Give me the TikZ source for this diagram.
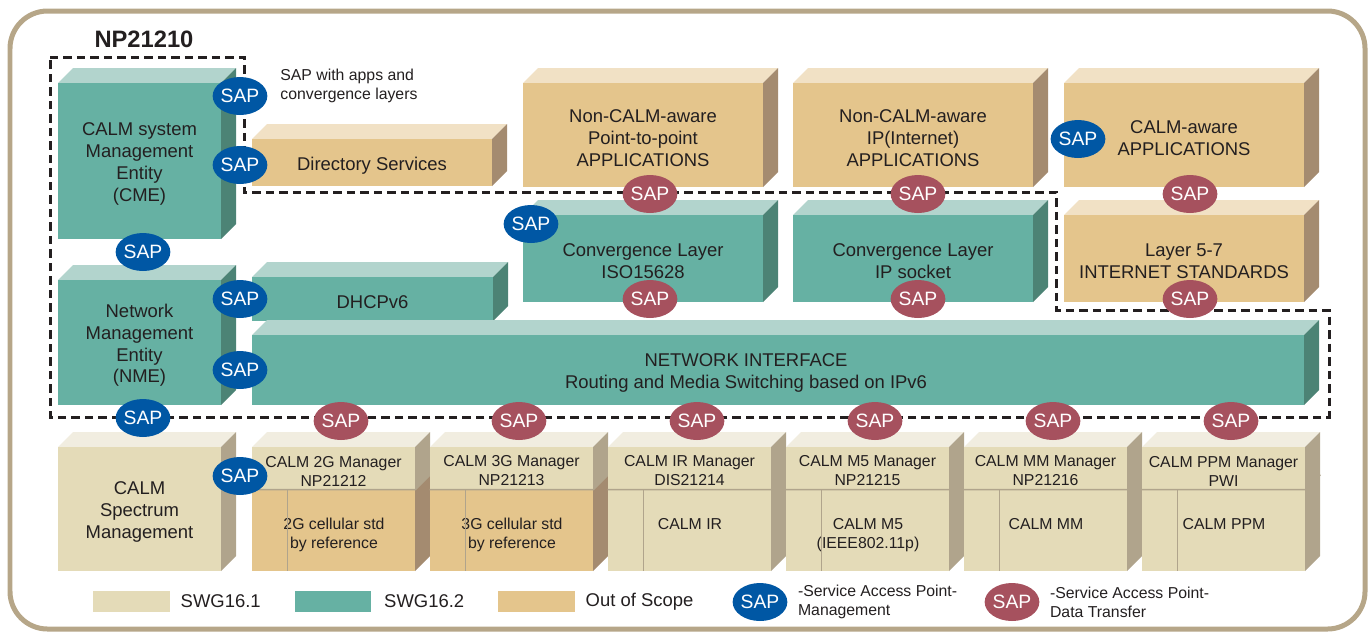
\documentclass[tikz,border=0pt]{standalone}
\usepackage{fontspec}
\setmainfont{Liberation Sans}
\usepackage{xcolor}
\usetikzlibrary{shapes,fit,positioning}

\definecolor{ink}{RGB}{35,31,32}
\definecolor{framecol}{RGB}{182,166,136}
\definecolor{swgone}{RGB}{228,219,184}
\definecolor{swgonetop}{RGB}{241,237,224}
\definecolor{swgoneside}{RGB}{176,164,140}
\definecolor{swgtwo}{RGB}{102,177,163}
\definecolor{swgtwotop}{RGB}{178,212,205}
\definecolor{swgtwoside}{RGB}{76,131,117}
\definecolor{oos}{RGB}{228,197,140}
\definecolor{oostop}{RGB}{241,225,197}
\definecolor{oosside}{RGB}{164,139,112}
\definecolor{sapblue}{RGB}{0,87,164}
\definecolor{sapred}{RGB}{166,81,94}

% front face as a node, top and right faces drawn beside it
\newcommand{\cuboid}[7]{%
  \fill[#2top] (#3,#4) -- (#3+15,#4-15) -- (#5+15,#4-15) -- (#5,#4) -- cycle;
  \fill[#2side] (#5,#4) -- (#5+15,#4-15) -- (#5+15,#6-15) -- (#5,#6) -- cycle;
  \node[slab, fill=#2, fit={(#3,#4) (#5,#6)}] (#1) {};
  \node[slab] (#1t) at ([yshift=-0.06cm]#1) {#7};
}

\begin{document}
\begin{tikzpicture}[x=0.02cm, y=-0.02cm,
    slab/.style={rectangle, inner sep=0pt, outer sep=0pt, align=center, text=ink, font=\fontsize{10.5}{12.4}\selectfont},
    note/.style={inner sep=0pt, align=center, text=ink, font=\fontsize{9}{10.8}\selectfont},
    keytext/.style={inner sep=0pt, anchor=west, text=ink, font=\fontsize{10.5}{12.4}\selectfont},
    sap/.style={ellipse, fill=#1, minimum width=1cm, minimum height=0.76cm, inner sep=0pt, text=white, font=\fontsize{11}{12}\selectfont},
    swatch/.style={rectangle, fill=#1, minimum width=1.54cm, minimum height=0.42cm, inner sep=0pt},
    divider/.style={draw=swgoneside, line width=0.03cm},
    scopeline/.style={draw=ink, line width=0.06cm, dash pattern=on 0.17cm off 0.1cm}]
    \useasboundingbox (0,0) rectangle (1371,633);
    \draw[framecol, line width=0.1cm, rounded corners=0.75cm] (10,11) rectangle (1365,629);

    % upper blocks
    \cuboid{cme}{swgtwo}{58}{83}{221}{239}{CALM system\\Management\\Entity\\(CME)}
    \cuboid{nme}{swgtwo}{58}{280}{221}{405}{Network\\Management\\Entity\\(NME)}
    \cuboid{dir}{oos}{252}{139}{492}{186}{Directory Services}
    \cuboid{ptp}{oos}{523}{83}{763}{187}{Non-CALM-aware\\Point-to-point\\APPLICATIONS}
    \cuboid{ipapp}{oos}{793}{83}{1033}{187}{Non-CALM-aware\\IP(Internet)\\APPLICATIONS}
    \cuboid{aware}{oos}{1064}{83}{1304}{187}{CALM-aware\\APPLICATIONS}
    \cuboid{iso}{swgtwo}{523}{215}{763}{302}{Convergence Layer\\ISO15628}
    \cuboid{sock}{swgtwo}{793}{215}{1033}{302}{Convergence Layer\\IP socket}
    \cuboid{inet}{oos}{1064}{215}{1304}{302}{Layer 5-7\\INTERNET STANDARDS}
    \cuboid{dhcp}{swgtwo}{252}{277}{493}{321}{DHCPv6}
    \cuboid{ni}{swgtwo}{252}{335}{1304}{405}{}
    \node[slab] (nitext) at (746,373) {NETWORK INTERFACE\\Routing and Media Switching based on IPv6};
    \cuboid{spec}{swgone}{58}{447}{221}{571}{CALM\\Spectrum\\Management}

    % manager blocks
    \foreach \x/\id/\head/\body/\sch in {
        252/mtwo/{CALM 2G Manager\\NP21212}/{2G cellular std\\by reference}/oos,
        430/mthree/{CALM 3G Manager\\NP21213}/{3G cellular std\\by reference}/oos,
        608/mir/{CALM IR Manager\\DIS21214}/{CALM IR}/swgone,
        786/mfive/{CALM M5 Manager\\NP21215}/{CALM M5\\(IEEE802.11p)}/swgone,
        964/mmm/{CALM MM Manager\\NP21216}/{CALM MM}/swgone,
        1142/mppm/{CALM PPM Manager\\PWI}/{CALM PPM}/swgone}{
      \fill[swgonetop] (\x,447) -- (\x+15,432) -- (\x+178,432) -- (\x+163,447) -- cycle;
      \fill[swgoneside] (\x+163,447) -- (\x+178,432) -- (\x+178,475) -- (\x+163,490) -- cycle;
      \fill[fill=\sch side] (\x+163,490) -- (\x+178,475) -- (\x+178,556) -- (\x+163,571) -- cycle;
      \node[note, fill=swgone, fit={(\x,447) (\x+163,490)}] (\id h) {};
      \node[note] (\id ht) at ([yshift=-0.05cm]\id h) {\head};
      \node[note, fill=\sch, fit={(\x,490) (\x+163,571)}] (\id b) {};
      \node[note, anchor=north] (\id t) at (\x+82,518) {\body};
      \draw[divider] (\id b.north west) -- (\id b.north east) -- ++(15,-15);
      \draw[divider] ([xshift=0.72cm]\id b.north west) -- ([xshift=0.72cm]\id b.south west);
    }

    % NP21210 scope
    \draw[scopeline] (50,57) -- (244,57) -- (244,192) -- (1056,192) -- (1056,310)
        -- (1329,310) -- (1329,417) -- (50,417) -- cycle;
    \node[text=ink, font=\bfseries\fontsize{13.5}{15}\selectfont] (np) at (144,39) {NP21210};
    \node[note, align=left, anchor=west] (sapnote) at (280,86) {SAP with apps and\\convergence layers};

    % management SAPs
    \node[sap=sapblue] (m1) at (240,96) {SAP};
    \node[sap=sapblue] (m2) at (240,165) {SAP};
    \node[sap=sapblue] (m3) at (143,252) {SAP};
    \node[sap=sapblue] (m4) at (240,299) {SAP};
    \node[sap=sapblue] (m5) at (240,370) {SAP};
    \node[sap=sapblue] (m6) at (143,418) {SAP};
    \node[sap=sapblue] (m7) at (240,476) {SAP};
    \node[sap=sapblue] (m8) at (531,224) {SAP};
    \node[sap=sapblue] (m9) at (1078,139) {SAP};

    % data transfer SAPs
    \node[sap=sapred] (d1) at (650,194) {SAP};
    \node[sap=sapred] (d2) at (918,194) {SAP};
    \node[sap=sapred] (d3) at (1190,194) {SAP};
    \node[sap=sapred] (d4) at (650,299) {SAP};
    \node[sap=sapred] (d5) at (918,299) {SAP};
    \node[sap=sapred] (d6) at (1190,299) {SAP};
    \node[sap=sapred] (d7) at (341,421) {SAP};
    \node[sap=sapred] (d8) at (519,421) {SAP};
    \node[sap=sapred] (d9) at (697,421) {SAP};
    \node[sap=sapred] (d10) at (875,421) {SAP};
    \node[sap=sapred] (d11) at (1053,421) {SAP};
    \node[sap=sapred] (d12) at (1231,421) {SAP};

    % legend
    \node[swatch=swgone] (k1) at (131.5,601.5) {};
    \node[keytext, right=0.2cm of k1] (k1t) {SWG16.1};
    \node[swatch=swgtwo] (k2) at (333,601.5) {};
    \node[keytext, right=0.24cm of k2] (k2t) {SWG16.2};
    \node[swatch=oos] (k3) at (536.5,601.5) {};
    \node[keytext, right=0.2cm of k3] (k3t) {Out of Scope};
    \node[sap=sapblue] (k4) at (760,602) {SAP};
    \node[note, align=left, anchor=west, right=0.2cm of k4] (k4t) {-Service Access Point-\\Management};
    \node[sap=sapred] (k5) at (1012,602) {SAP};
    \node[note, align=left, anchor=west, right=0.2cm of k5] (k5t) {-Service Access Point-\\Data Transfer};
\end{tikzpicture}
\end{document}
